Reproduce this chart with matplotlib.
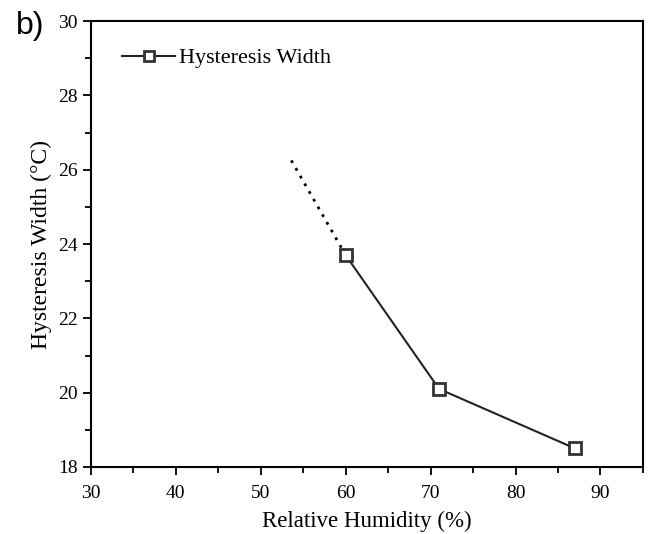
import matplotlib.pyplot as plt
from matplotlib.ticker import MultipleLocator

# Hysteresis width vs relative humidity
humidity = [60, 71, 87]
width = [23.7, 20.1, 18.5]

# extrapolated trend toward lower humidity
trend_x = [53.6, 60]
trend_y = [26.25, 23.7]

plt.rcParams['font.family'] = ['Liberation Serif', 'DejaVu Serif']

fig = plt.figure(figsize=(6.54, 5.34), dpi=100)
ax = fig.add_axes([0.139, 0.1255, 0.844, 0.835])

ax.plot(trend_x, trend_y, color='black', linestyle=(0, (1, 2.2)), linewidth=2)
ax.plot(humidity, width, color='#222222', linewidth=1.5, marker='s',
        markersize=8.5, markerfacecolor='white', markeredgecolor='#333333',
        markeredgewidth=2, label='Hysteresis Width')

ax.set_xlim(30, 95)
ax.set_ylim(18, 30)
ax.xaxis.set_major_locator(MultipleLocator(10))
ax.xaxis.set_minor_locator(MultipleLocator(5))
ax.yaxis.set_major_locator(MultipleLocator(2))
ax.yaxis.set_minor_locator(MultipleLocator(1))
ax.tick_params(which='major', direction='out', length=6, width=1.3, labelsize=14)
ax.tick_params(axis='x', which='major', pad=7)
ax.tick_params(which='minor', direction='out', length=4, width=1.3)
for s in ax.spines.values():
    s.set_linewidth(1.5)

ax.set_xlabel('Relative Humidity (%)', fontsize=16.5, labelpad=6)
ax.set_ylabel('Hysteresis Width (\u00b0C)', fontsize=17, labelpad=4)

ax.legend(loc='upper left', frameon=False, fontsize=16, handlelength=2.4,
          handletextpad=0.15, markerscale=0.85, bbox_to_anchor=(0.02, 0.985))

fig.text(0.025, 0.952, 'b)', fontsize=23, family='Liberation Sans', va='center')

plt.savefig('out.png', dpi=100)
plt.close()
